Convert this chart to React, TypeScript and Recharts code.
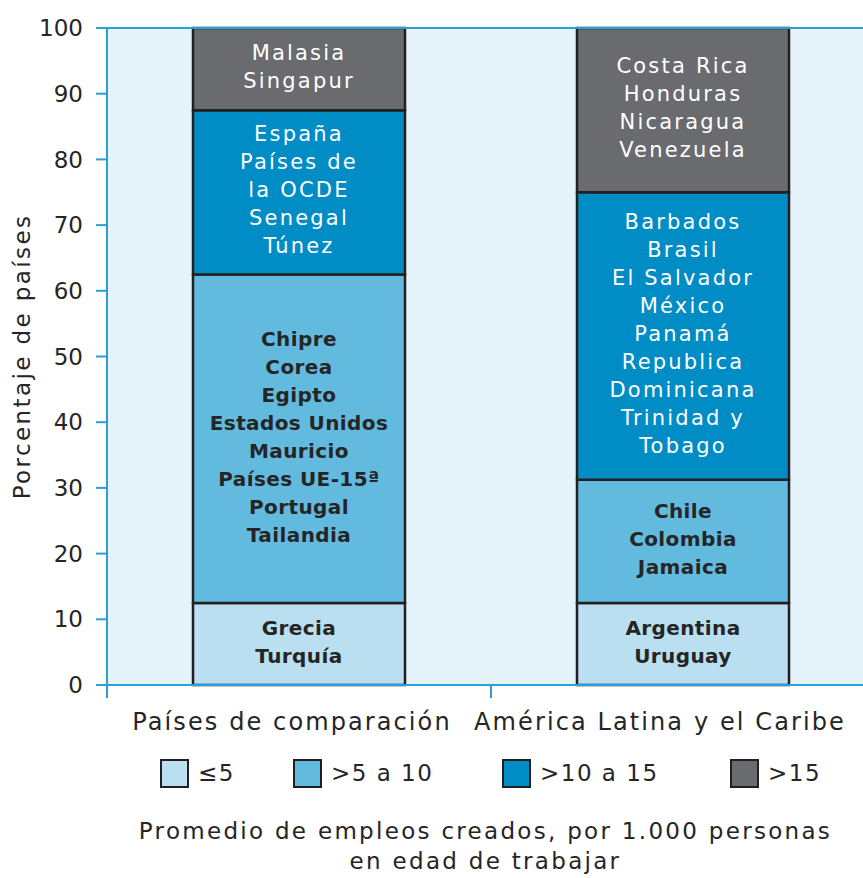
import React from 'react';
import { BarChart, Bar, XAxis, YAxis, CartesianGrid, Legend, LabelList, ReferenceLine } from 'recharts';

const categories = ['Países de comparación', 'América Latina y el Caribe'];
const seriesNames = ['≤5', '>5 a 10', '>10 a 15', '>15'];
const le5 = [12.5, 12.5];
const gt5to10 = [50, 18.75];
const gt10to15 = [25, 43.75];
const gt15 = [12.5, 25];
const yTicks = [0, 10, 20, 30, 40, 50, 60, 70, 80, 90, 100];

const le5Labels = [['Grecia', 'Turquía'], ['Argentina', 'Uruguay']];
const gt5to10Labels = [
  ['Chipre', 'Corea', 'Egipto', 'Estados Unidos', 'Mauricio', 'Países UE-15ª', 'Portugal', 'Tailandia'],
  ['Chile', 'Colombia', 'Jamaica'],
];
const gt10to15Labels = [
  ['España', 'Países de', 'la OCDE', 'Senegal', 'Túnez'],
  ['Barbados', 'Brasil', 'El Salvador', 'México', 'Panamá', 'Republica', 'Dominicana', 'Trinidad y', 'Tobago'],
];
const gt15Labels = [['Malasia', 'Singapur'], ['Costa Rica', 'Honduras', 'Nicaragua', 'Venezuela']];

const titleLines = ['Promedio de empleos creados, por 1.000 personas', 'en edad de trabajar'];

const COLORS = {
  le5: '#b9dff0',
  gt5to10: '#62bbdf',
  gt10to15: '#008cc5',
  gt15: '#6a6b6f',
  bg: '#e4f2fa',
  axis: '#2b9fd6',
  border: '#231f20',
  text: '#252525',
};
const seriesColors = [COLORS.le5, COLORS.gt5to10, COLORS.gt10to15, COLORS.gt15];

const FONT = '"DejaVu Sans", sans-serif';
const CHART_W = 875;
const Y_AXIS_W = 107;
const PLOT_W = CHART_W - Y_AXIS_W;
const legendLeft = [160, 293, 502, 730];
const catLabelShift = [-7, -23];

const data = categories.map((name, i) => ({
  name,
  le5: le5[i],
  gt5to10: gt5to10[i],
  gt10to15: gt10to15[i],
  gt15: gt15[i],
}));

// multi-line country names centred inside a stacked segment
const segLabel = (labels: string[][], dark: boolean) => (props: any) => {
  const { x, y, width, height, index } = props;
  const lines = labels[index] || [];
  const lh = 28;
  const cx = Number(x) + Number(width) / 2;
  const top = Number(y) + Number(height) / 2 - ((lines.length - 1) * lh) / 2 - 2;
  return (
    <g>
      {lines.map((l, k) => (
        <text
          key={k}
          x={cx}
          y={top + k * lh}
          textAnchor="middle"
          dominantBaseline="central"
          fontFamily={FONT}
          fontSize={dark ? 21 : 20}
          fontWeight={dark ? 'normal' : 'bold'}
          letterSpacing={dark ? 2.2 : 0.4}
          fill={dark ? '#ffffff' : COLORS.text}
        >
          {l}
        </text>
      ))}
    </g>
  );
};

// category label near band centre, tick mark at band boundary
const CategoryTick = (props: any) => {
  const { x, y, payload, index } = props;
  const band = PLOT_W / categories.length;
  const bx = x - band / 2;
  return (
    <g>
      <line x1={bx} x2={bx} y1={y} y2={y + 13} stroke={COLORS.axis} strokeWidth={2} />
      <text
        x={x + (catLabelShift[index] || 0)}
        y={y + 45}
        textAnchor="middle"
        fontFamily={FONT}
        fontSize={24}
        letterSpacing={2.1}
        fill={COLORS.text}
      >
        {payload.value}
      </text>
    </g>
  );
};

const YLabel = (props: any) => {
  const { viewBox } = props;
  const cx = viewBox.x + 22;
  const cy = viewBox.y + viewBox.height / 2;
  return (
    <text
      x={cx}
      y={cy}
      transform={`rotate(-90, ${cx}, ${cy})`}
      textAnchor="middle"
      dominantBaseline="central"
      fontFamily={FONT}
      fontSize={23}
      letterSpacing={2.4}
      fill={COLORS.text}
    >
      Porcentaje de países
    </text>
  );
};

const renderLegend = () => (
  <div style={{ position: 'relative', height: 133, fontFamily: FONT, color: COLORS.text }}>
    {seriesNames.map((s, i) => (
      <div key={s} style={{ position: 'absolute', left: legendLeft[i], top: 14, display: 'flex', alignItems: 'center' }}>
        <div
          style={{
            width: 25,
            height: 25,
            background: seriesColors[i],
            border: `2px solid ${COLORS.border}`,
            marginRight: 9,
          }}
        />
        <span style={{ fontSize: 23, letterSpacing: 1.5, lineHeight: '29px' }}>{s}</span>
      </div>
    ))}
    <div
      style={{
        position: 'absolute',
        top: 71,
        left: 96,
        right: 0,
        textAlign: 'center',
        fontSize: 23,
        letterSpacing: 2.3,
        lineHeight: '30px',
      }}
    >
      {titleLines.map((t) => (
        <div key={t}>{t}</div>
      ))}
    </div>
  </div>
);

export default function App() {
  return (
    <div style={{ position: 'absolute', left: 0, top: 0, width: 863, height: 878, overflow: 'hidden', background: '#fff' }}>
      <BarChart width={CHART_W} height={878} data={data} margin={{ top: 28, right: 0, left: 0, bottom: 0 }} barSize={212}>
        <CartesianGrid fill={COLORS.bg} horizontal={false} vertical={false} />
        <XAxis
          dataKey="name"
          height={60}
          axisLine={{ stroke: COLORS.axis, strokeWidth: 2 }}
          tickLine={false}
          tickSize={0}
          tickMargin={0}
          tick={<CategoryTick />}
          interval={0}
        />
        <YAxis
          width={Y_AXIS_W}
          domain={[0, 100]}
          ticks={yTicks}
          interval={0}
          axisLine={{ stroke: COLORS.axis, strokeWidth: 2 }}
          tickLine={{ stroke: COLORS.axis, strokeWidth: 2 }}
          tickSize={11}
          tickMargin={13}
          tick={{ fontFamily: FONT, fontSize: 23, fill: COLORS.text }}
          label={<YLabel />}
        />
        <Legend verticalAlign="bottom" content={renderLegend} wrapperStyle={{ height: 133 }} />
        <Bar dataKey="le5" stackId="a" fill={COLORS.le5} stroke={COLORS.border} strokeWidth={2.5} isAnimationActive={false}>
          <LabelList dataKey="le5" content={segLabel(le5Labels, false)} />
        </Bar>
        <Bar dataKey="gt5to10" stackId="a" fill={COLORS.gt5to10} stroke={COLORS.border} strokeWidth={2.5} isAnimationActive={false}>
          <LabelList dataKey="gt5to10" content={segLabel(gt5to10Labels, false)} />
        </Bar>
        <Bar dataKey="gt10to15" stackId="a" fill={COLORS.gt10to15} stroke={COLORS.border} strokeWidth={2.5} isAnimationActive={false}>
          <LabelList dataKey="gt10to15" content={segLabel(gt10to15Labels, true)} />
        </Bar>
        <Bar dataKey="gt15" stackId="a" fill={COLORS.gt15} stroke={COLORS.border} strokeWidth={2.5} isAnimationActive={false}>
          <LabelList dataKey="gt15" content={segLabel(gt15Labels, true)} />
        </Bar>
        <ReferenceLine y={100} stroke={COLORS.axis} strokeWidth={2} />
      </BarChart>
    </div>
  );
}
